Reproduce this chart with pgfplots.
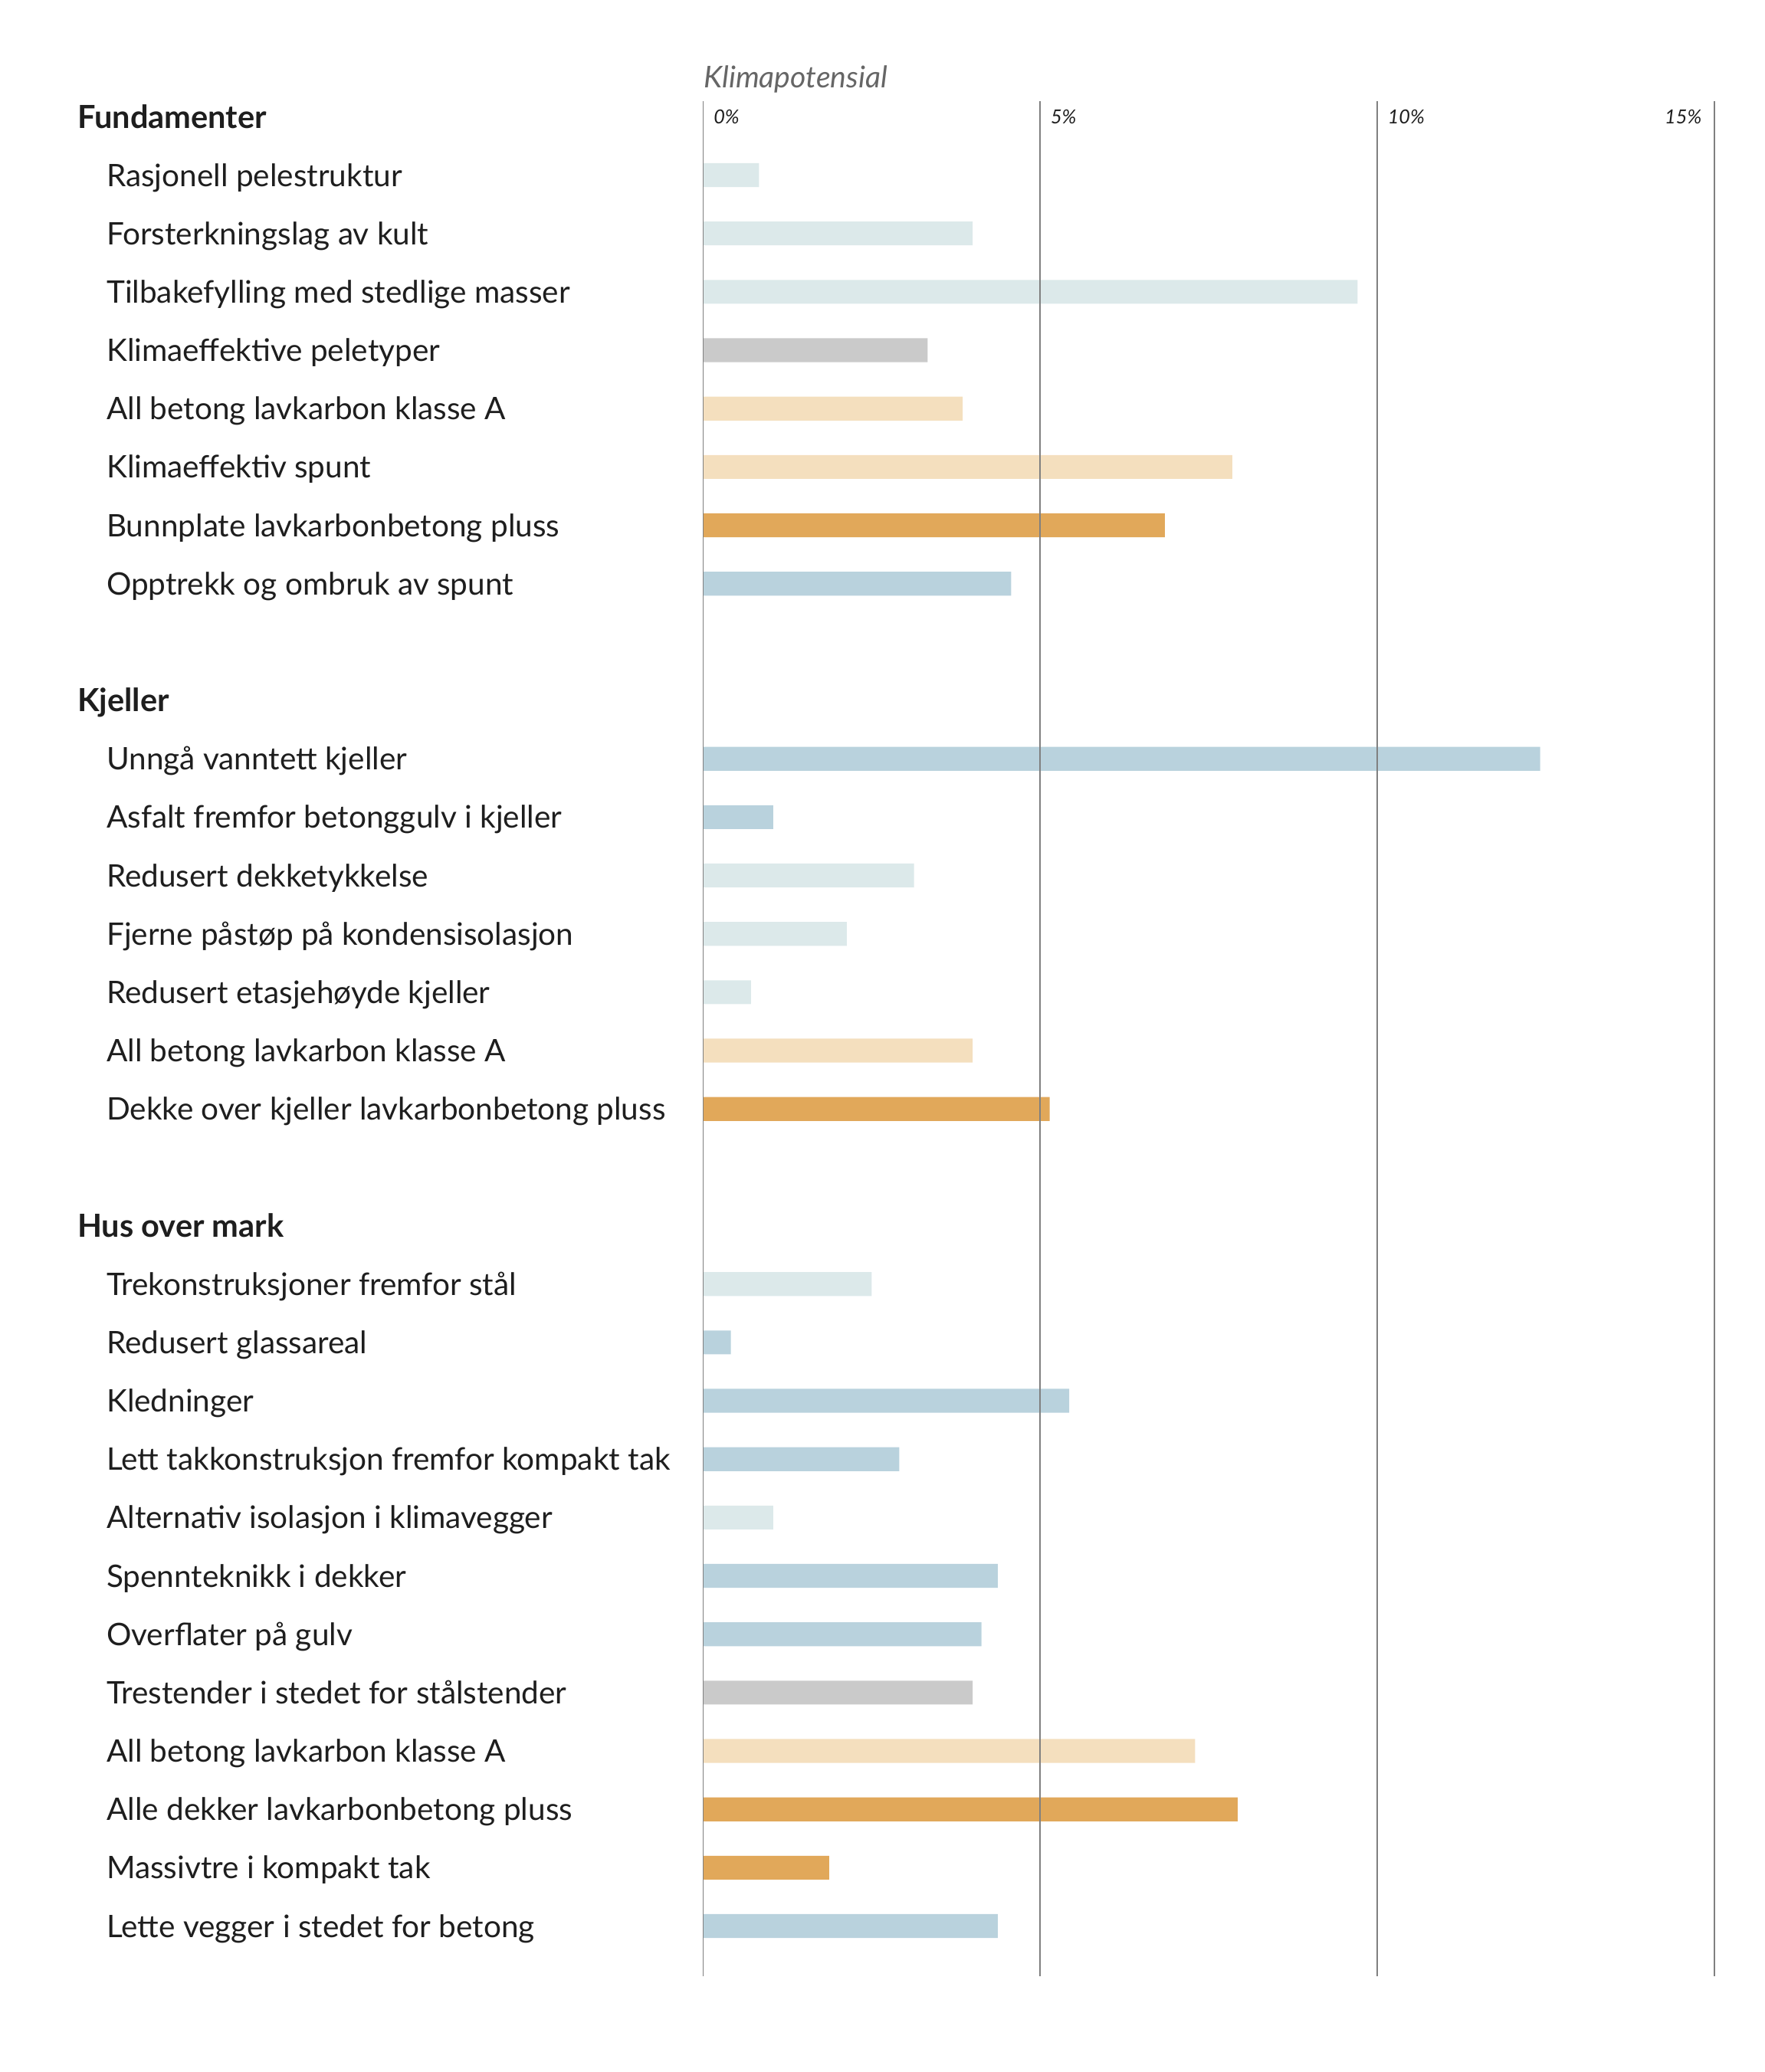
\documentclass[border=0pt]{standalone}
\usepackage{fontspec}
\setmainfont{Lato}
\usepackage{pgfplots}
\pgfplotsset{compat=1.18}

\definecolor{lys}{HTML}{DCE9EA}
\definecolor{graa}{HTML}{CACACA}
\definecolor{beige}{HTML}{F4DFBE}
\definecolor{oransje}{HTML}{E1A85A}
\definecolor{blaa}{HTML}{B9D2DD}
\definecolor{txt}{HTML}{1E1E1E}
\definecolor{linje}{HTML}{808080}

% labels: row index, text
\newcommand{\lbl}[2]{\node[anchor=base west,inner sep=0pt,text=txt,font=\fontsize{11.7}{14}\selectfont] at ([xshift=-225pt,yshift=-4.2pt]axis cs:0,#1) {#2};}
\newcommand{\hdr}[2]{\node[anchor=base west,inner sep=0pt,text=txt,font=\fontsize{12}{14}\selectfont\bfseries] at ([xshift=-236pt,yshift=-4.3pt]axis cs:0,#1) {#2};}
\newcommand{\tk}[2]{\node[anchor=base west,inner sep=0pt,text=txt,font=\fontsize{7.3}{8}\selectfont\itshape] at ([xshift=3.8pt,yshift=-2.6pt]axis cs:#1,0) {#2};}

\begin{document}
\begin{tikzpicture}
\useasboundingbox (-265pt,-36pt) rectangle (400pt,745pt);
\begin{axis}[
    scale only axis,
    width=381pt, height=707pt,
    xmin=0, xmax=15,
    ymin=-0.2727, ymax=31.864,
    y dir=reverse,
    xbar, bar width=9pt, bar shift=0pt,
    xtick={0,5,10,15}, xticklabels={},
    ytick=\empty,
    major tick length=0pt,
    axis line style={draw=none},
    xmajorgrids,
    grid style={linje, line width=0.55pt},
    axis on top,
    clip=false,
    every axis plot/.append style={draw=none},
]
% lys
\addplot[fill=lys] coordinates {(0.83,1) (4.0,2) (9.71,3) (3.13,13) (2.13,14) (0.71,15) (2.5,20) (1.04,24)};
% graa
\addplot[fill=graa] coordinates {(3.33,4) (4.0,27)};
% beige
\addplot[fill=beige] coordinates {(3.85,5) (7.85,6) (4.0,16) (7.3,28)};
% oransje
\addplot[fill=oransje] coordinates {(6.85,7) (5.14,17) (7.93,29) (1.87,30)};
% blaa
\addplot[fill=blaa] coordinates {(4.57,8) (12.42,11) (1.04,12) (0.41,21) (5.43,22) (2.91,23) (4.37,25) (4.13,26) (4.37,31)};

\node[anchor=base west,inner sep=0pt,text=black!60,font=\fontsize{11.3}{13}\selectfont\itshape] at ([yshift=5pt]axis cs:0,-0.2727) {Klimapotensial};
\tk{0}{0\%}
\tk{5}{5\%}
\tk{10}{10\%}
\node[anchor=base east,inner sep=0pt,text=txt,font=\fontsize{7.3}{8}\selectfont\itshape] at ([xshift=-4.5pt,yshift=-2.6pt]axis cs:15,0) {15\%};

\hdr{0}{Fundamenter}
\lbl{1}{Rasjonell pelestruktur}
\lbl{2}{Forsterkningslag av kult}
\lbl{3}{Tilbakefylling med stedlige masser}
\lbl{4}{Klimaeffektive peletyper}
\lbl{5}{All betong lavkarbon klasse A}
\lbl{6}{Klimaeffektiv spunt}
\lbl{7}{Bunnplate lavkarbonbetong pluss}
\lbl{8}{Opptrekk og ombruk av spunt}

\hdr{10}{Kjeller}
\lbl{11}{Unngå vanntett kjeller}
\lbl{12}{Asfalt fremfor betonggulv i kjeller}
\lbl{13}{Redusert dekketykkelse}
\lbl{14}{Fjerne påstøp på kondensisolasjon}
\lbl{15}{Redusert etasjehøyde kjeller}
\lbl{16}{All betong lavkarbon klasse A}
\lbl{17}{Dekke over kjeller lavkarbonbetong pluss}

\hdr{19}{Hus over mark}
\lbl{20}{Trekonstruksjoner fremfor stål}
\lbl{21}{Redusert glassareal}
\lbl{22}{Kledninger}
\lbl{23}{Lett takkonstruksjon fremfor kompakt tak}
\lbl{24}{Alternativ isolasjon i klimavegger}
\lbl{25}{Spennteknikk i dekker}
\lbl{26}{Overflater på gulv}
\lbl{27}{Trestender i stedet for stålstender}
\lbl{28}{All betong lavkarbon klasse A}
\lbl{29}{Alle dekker lavkarbonbetong pluss}
\lbl{30}{Massivtre i kompakt tak}
\lbl{31}{Lette vegger i stedet for betong}
\end{axis}
\end{tikzpicture}
\end{document}
